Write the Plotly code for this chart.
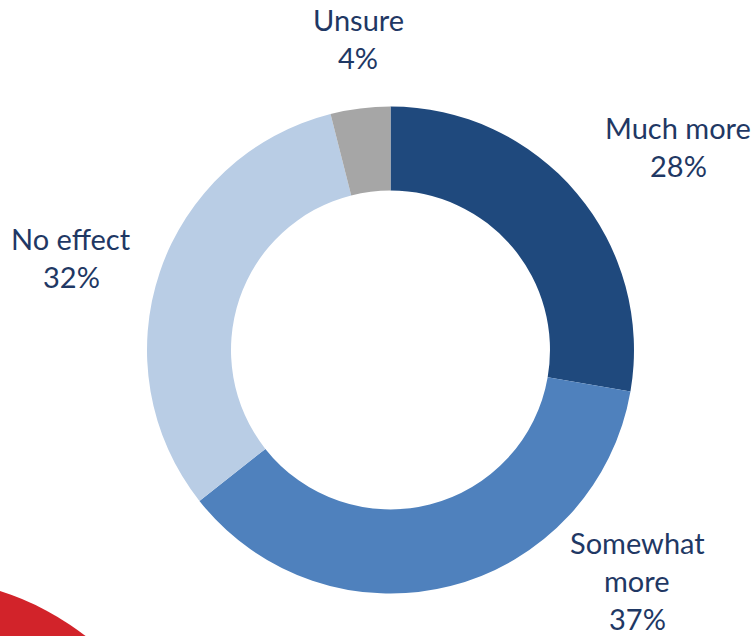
import plotly.graph_objects as go

W, H = 755, 636
OFF = 0  # page body margin removed via post_script

categories = ["Much more", "Somewhat more", "No effect", "Unsure"]
values = [28, 37, 32, 4]
display_lines = [["Much more"], ["Somewhat", "more"], ["No effect"], ["Unsure"]]
colors = ["#1F497D", "#4F81BD", "#B9CDE5", "#A6A6A6"]

# label block centers in window pixels (x, y of block center)
label_centers = [(678, 146), (637, 580), (71, 257), (358, 39)]
LINE_PX = 38

TEXT_COLOR = "#1F3864"

# pie geometry in window pixels
cx, cy, R = 390.5, 350, 243.5


def px_x(x):
    return (x - OFF) / W


def px_y(y):
    return 1 - (y - OFF) / H


fig = go.Figure(go.Pie(
    labels=categories,
    values=values,
    sort=False,
    direction="clockwise",
    rotation=0,
    hole=0.655,
    marker=dict(colors=colors, line=dict(width=0)),
    textinfo="none",
    hoverinfo="label+percent",
    domain=dict(x=[px_x(cx - R), px_x(cx + R)],
                y=[px_y(cy + R), px_y(cy - R)]),
    showlegend=False,
))

annotations = []
for lines, v, (bx, by) in zip(display_lines, values, label_centers):
    all_lines = lines + [f"{v}%"]
    n = len(all_lines)
    for i, t in enumerate(all_lines):
        py = by + (i - (n - 1) / 2) * LINE_PX
        annotations.append(dict(
            x=px_x(bx), y=px_y(py), xref="paper", yref="paper",
            text=t, showarrow=False, xanchor="center", yanchor="middle",
            font=dict(family="Lato", size=29, color=TEXT_COLOR),
        ))

# decorative red disc at bottom-left
rcx, rcy, rr = -84, 855, 277
shapes = [dict(
    type="circle", xref="paper", yref="paper",
    x0=px_x(rcx - rr), x1=px_x(rcx + rr),
    y0=px_y(rcy + rr), y1=px_y(rcy - rr),
    fillcolor="#D2232A", line=dict(width=0), layer="below",
)]

fig.update_layout(
    width=W, height=H,
    margin=dict(l=0, r=0, t=0, b=0),
    paper_bgcolor="white",
    plot_bgcolor="white",
    annotations=annotations,
    shapes=shapes,
)

fig.write_html(
    "out.html",
    config={"displayModeBar": False},
    post_script="document.body.style.margin='0';document.body.style.overflow='hidden';",
)
